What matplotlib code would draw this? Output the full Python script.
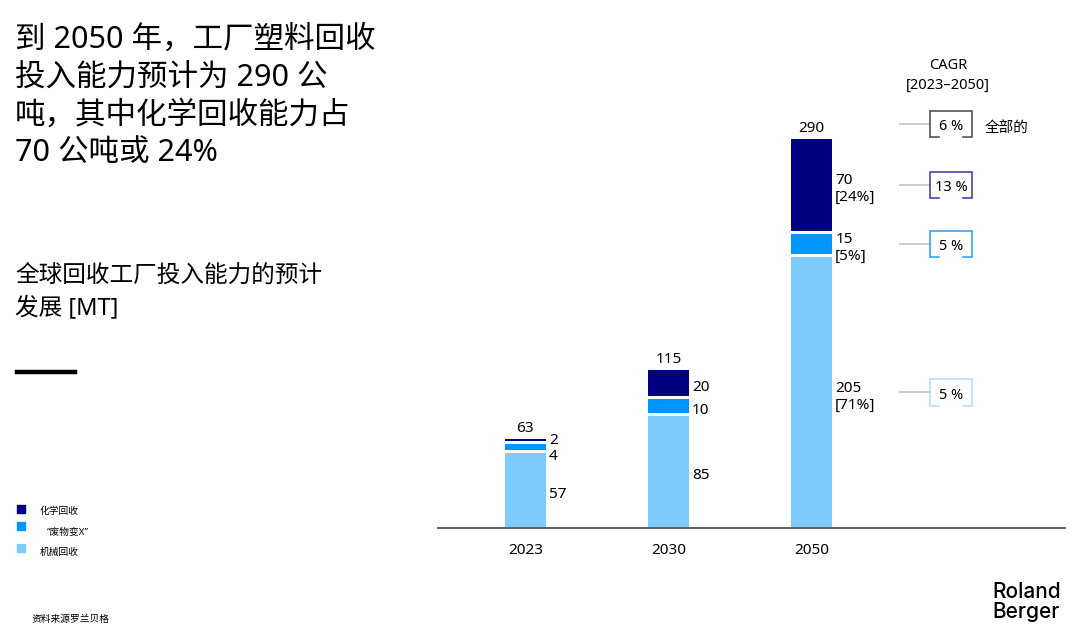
import numpy as np
import matplotlib
matplotlib.use('Agg')
import matplotlib.pyplot as plt

plt.rcParams['font.family'] = ['Noto Sans', 'Noto Sans CJK SC', 'DejaVu Sans']

# Data
years = ['2023', '2030', '2050']
mechanical = [57, 85, 205]
waste_to_x = [4, 10, 15]
chemical = [2, 20, 70]
totals = [63, 115, 290]
share_2050 = ['[71%]', '[5%]', '[24%]']
cagr_labels = ['6 %', '13 %', '5 %', '5 %']
legend_labels = ['化学回收', '“废物变X”', '机械回收']

c_chem = '#000080'
c_wtx = '#0096ff'
c_mech = '#7dcbff'

fig = plt.figure(figsize=(10.82, 6.36), dpi=100)

# Bar axes placed in pixel terms: baseline at y=528, ~1.32 px per MT
scale = 1.322
ax = fig.add_axes([438 / 1082, 108 / 636, 627 / 1082, 478 / 636])
ax.set_ylim(0, 478 / scale)
ax.set_xlim(-0.61, 3.77)
pos = np.arange(len(years))
w = 0.29
gap = 3 / scale  # white gap between stacked segments

mech = np.array(mechanical)
wtx = np.array(waste_to_x)
chem = np.array(chemical)
b_wtx = mech + gap
b_chem = mech + wtx + 2 * gap
top = np.array(totals) + 2 * gap
ax.bar(pos, mech, w, color=c_mech)
ax.bar(pos, wtx, w, bottom=b_wtx, color=c_wtx)
ax.bar(pos, chem, w, bottom=b_chem, color=c_chem)

for s in ['top', 'right', 'left']:
    ax.spines[s].set_visible(False)
ax.spines['bottom'].set_color('#555555')
ax.spines['bottom'].set_linewidth(1.3)
ax.set_yticks([])
ax.set_xticks(pos)
ax.set_xticklabels(years, fontsize=11)
ax.tick_params(axis='x', length=0, pad=11)

# Totals above bars
for p, t, tp in zip(pos, totals, top):
    ax.annotate(str(t), (p, tp), xytext=(0, 7.5), textcoords='offset points',
                ha='center', va='center', fontsize=11)

# Segment labels to the right of bars
xl = w / 2 + 0.02
# small 2023 segments need nudging apart (points)
nudge = {(0, 'wtx'): -7, (0, 'chem'): 0}
for i, p in enumerate(pos):
    segs = [('mech', mech[i], 0), ('wtx', wtx[i], b_wtx[i]), ('chem', chem[i], b_chem[i])]
    for k, (name, v, b) in enumerate(segs):
        txt = str(v)
        if i == 2:
            txt += '\n' + share_2050[k]
        dy = nudge.get((i, name), -3)
        ax.annotate(txt, (p + xl, b + v / 2), xytext=(0, dy), textcoords='offset points',
                    ha='left', va='center', fontsize=11, linespacing=1.2)

# CAGR brackets
box_colors = ['#555555', '#4444aa', '#33a6ff', '#b3e0ff']
cagr_y = [top[2] + 11,
          b_chem[2] + chem[2] / 2,
          b_wtx[2] + wtx[2] / 2,
          mech[2] / 2]
bx = pos[2] + 0.975
bw = 0.145
bh = 10
stub = 0.06
for lab, yc, col in zip(cagr_labels, cagr_y, box_colors):
    ax.plot([pos[2] + 0.62, bx - bw], [yc, yc], color='#c8c8c8', lw=1.3, clip_on=False)
    x0, x1, y0, y1 = bx - bw, bx + bw, yc - bh, yc + bh
    ax.plot([x0 + stub, x0, x0, x1, x1, x1 - stub], [y0, y0, y1, y1, y0, y0],
            color=col, lw=1.2, clip_on=False, solid_joinstyle='miter')
    ax.text(bx, yc - 2, lab, ha='center', va='center', fontsize=10.5)

ax.text(bx + bw + 0.09, cagr_y[0] - 3, '全部的', ha='left', va='center', fontsize=10.5)
ax.text(bx - 0.02, top[2] + 48, 'CAGR\n[2023–2050]', ha='center', va='center',
        fontsize=10.5, linespacing=1.45)

# Left side texts
fig.text(15 / 1082, 1 - 25 / 636, '到 2050 年，工厂塑料回收\n投入能力预计为 290 公\n吨，其中化学回收能力占\n70 公吨或 24%',
         ha='left', va='top', fontsize=22, linespacing=1.34)
fig.text(15 / 1082, 1 - 265 / 636, '全球回收工厂投入能力的预计\n发展 [MT]',
         ha='left', va='top', fontsize=17, linespacing=1.46)
fig.add_artist(plt.Line2D([17 / 1082, 75 / 1082], [1 - 372 / 636] * 2, color='black', lw=3.2))

# Legend
leg_cols = [c_chem, c_wtx, c_mech]
leg_y = [509, 526, 548]
leg_tx = [40, 47, 40]
leg_ty = [511, 532, 552]
for col, y, tx, ty, lab in zip(leg_cols, leg_y, leg_tx, leg_ty, legend_labels):
    fig.patches.append(plt.Rectangle((17 / 1082, 1 - (y + 4) / 636), 8 / 1082, 8 / 636,
                                     transform=fig.transFigure, color=col))
    fig.text(tx / 1082, 1 - ty / 636, lab, ha='left', va='center', fontsize=7)

fig.text(32 / 1082, 1 - 619 / 636, '资料来源罗兰贝格', ha='left', va='center', fontsize=7)
fig.text(992 / 1082, 1 - 602 / 636, 'Roland\nBerger', ha='left', va='center',
         fontsize=15, family=['Inter', 'DejaVu Sans'], fontweight='medium', linespacing=0.97)

fig.savefig('out.png', dpi=100)
